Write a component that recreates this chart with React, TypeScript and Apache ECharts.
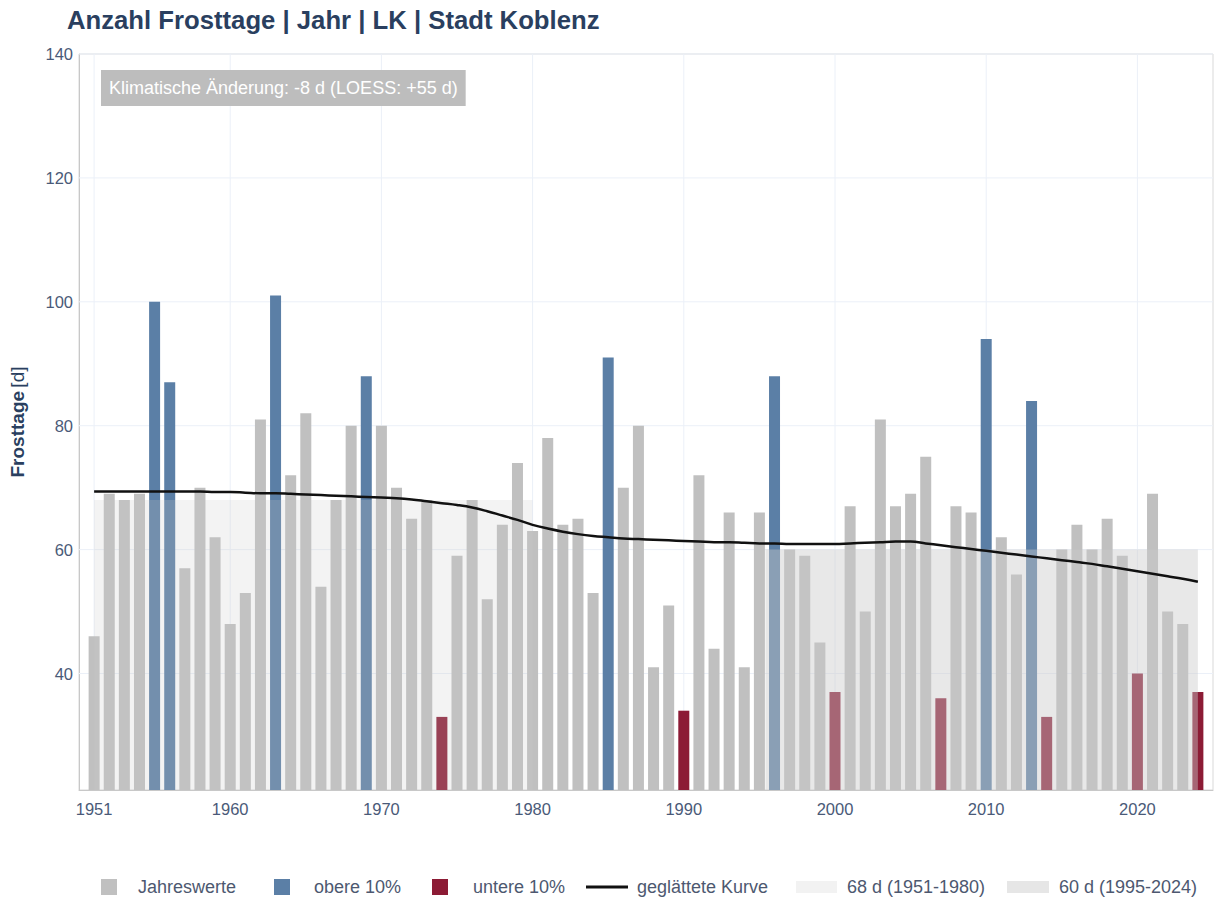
import React, { useEffect, useRef } from "react";
import * as echarts from "echarts";

const firstYear = 1951;
const frostDays: number[] = [
  46, 69, 68, 69, 100, 87, 57, 70, 62, 48,
  53, 81, 101, 72, 82, 54, 68, 80, 88, 80,
  70, 65, 68, 33, 59, 68, 52, 64, 74, 63,
  78, 64, 65, 53, 91, 70, 80, 41, 51, 34,
  72, 44, 66, 41, 66, 88, 60, 59, 45, 37,
  67, 50, 81, 67, 69, 75, 36, 67, 66, 94,
  62, 56, 84, 33, 60, 64, 60, 65, 59, 40,
  69, 50, 48, 37,
];
const smoothed: number[] = [
  69.4, 69.4, 69.4, 69.4, 69.4, 69.4, 69.4, 69.4, 69.3, 69.3,
  69.2, 69.1, 69.1, 69.0, 68.9, 68.8, 68.7, 68.6, 68.5, 68.4,
  68.3, 68.1, 67.8, 67.5, 67.2, 66.8, 66.2, 65.5, 64.8, 64.0,
  63.4, 62.9, 62.5, 62.2, 62.0, 61.8, 61.7, 61.6, 61.5, 61.4,
  61.3, 61.2, 61.2, 61.1, 61.0, 61.0, 60.9, 60.9, 60.9, 60.9,
  61.0, 61.1, 61.2, 61.3, 61.3, 61.0, 60.7, 60.4, 60.1, 59.8,
  59.5, 59.2, 58.9, 58.6, 58.3, 58.0, 57.7, 57.3, 56.9, 56.5,
  56.1, 55.7, 55.3, 54.8,
];
const upperYears = [1955, 1956, 1963, 1969, 1985, 1996, 2010, 2013];
const lowerYears = [1974, 1990, 2000, 2007, 2014, 2020, 2024];
const bands = [
  { name: "68 d (1951-1980)", from: 1951, to: 1980, value: 68 },
  { name: "60 d (1995-2024)", from: 1995.4, to: 2024, value: 60 },
];
const xTicks = [1951, 1960, 1970, 1980, 1990, 2000, 2010, 2020];
const yTicks = [40, 60, 80, 100, 120, 140];
const yMin = 21.2;
const yMax = 140;
const xMin = 1950;
const xMax = 2025;

const TITLE = "Anzahl Frosttage | Jahr | LK | Stadt Koblenz";
const NOTE = "Klimatische Änderung: -8 d (LOESS: +55 d)";

const GRAY = "#c0c0c0";
const BLUE = "#5b7fa6";
const RED = "#8c1b35";
const NAVY = "#2a3f5f";
const TICK = "#4a5a78";
const FONT = "Liberation Sans, Arial, sans-serif";

export default function App() {
  const ref = useRef<HTMLDivElement>(null);
  useEffect(() => {
    if (!ref.current) return;
    const chart = echarts.init(ref.current, null, { renderer: "svg" });
    const years = frostDays.map((_, i) => firstYear + i);
    const normal: any[] = [];
    const upper: any[] = [];
    const lower: any[] = [];
    years.forEach((y, i) => {
      const v = frostDays[i];
      if (upperYears.includes(y)) upper.push([y, v]);
      else if (lowerYears.includes(y)) lower.push([y, v]);
      else normal.push([y, v]);
    });
    const smoothData = years.map((y, i) => [y, smoothed[i]]);

    const gridData = [
      ...xTicks.map((x) => [x, yMin, 0]),
      ...yTicks.map((y) => [xMin, y, 1]),
    ];

    const legendY = 887;
    const legendText = (x: number, text: string) => ({
      type: "text",
      x,
      y: legendY,
      style: { text, fill: "#4d5870", font: `18px ${FONT}`, verticalAlign: "middle" },
    });

    chart.setOption({
      animation: false,
      backgroundColor: "#fff",
      textStyle: { fontFamily: FONT },
      title: {
        text: TITLE,
        left: 67,
        top: 7,
        padding: 0,
        textStyle: { color: NAVY, fontSize: 25.7, fontWeight: "bold", fontFamily: FONT },
      },
      grid: {
        left: 79,
        top: 54,
        right: 2,
        bottom: 111,
        show: true,
        borderColor: "#d9d9d9",
        borderWidth: 1,
        backgroundColor: "transparent",
      },
      xAxis: {
        type: "value",
        min: xMin,
        max: xMax,
        axisLine: { show: true, lineStyle: { color: "#c8c8c8" } },
        axisTick: { show: false },
        splitLine: { show: false },
        axisLabel: {
          customValues: xTicks,
          color: TICK,
          fontSize: 16.5,
          margin: 10,
          formatter: (v: number) => String(v),
        },
      },
      yAxis: {
        type: "value",
        min: yMin,
        max: yMax,
        axisLine: { show: true, lineStyle: { color: "#c8c8c8" } },
        axisTick: { show: false },
        splitLine: { show: false },
        axisLabel: {
          customValues: yTicks,
          color: TICK,
          fontSize: 16.5,
          margin: 6,
        },
        name: "{b|Frosttage} {n|[d]}",
        nameLocation: "middle",
        nameGap: 52,
        nameRotate: 90,
        nameTextStyle: {
          rich: {
            b: { fontWeight: "bold", fontSize: 19, color: NAVY, fontFamily: FONT },
            n: { fontSize: 19, color: NAVY, fontFamily: FONT },
          },
        },
      },
      series: [
        {
          type: "custom",
          name: "grid",
          z: 1,
          silent: true,
          encode: { x: 0, y: 1 },
          data: gridData,
          renderItem: (params: any, api: any) => {
            const kind = api.value(2);
            const cs = params.coordSys;
            if (kind === 0) {
              const p = api.coord([api.value(0), yMin]);
              return {
                type: "line",
                shape: { x1: p[0], y1: cs.y, x2: p[0], y2: cs.y + cs.height },
                style: { stroke: "#ebf0f8", lineWidth: 1 },
              };
            }
            const p = api.coord([xMin, api.value(1)]);
            return {
              type: "line",
              shape: { x1: cs.x, y1: p[1], x2: cs.x + cs.width, y2: p[1] },
              style: { stroke: "#ebf0f8", lineWidth: 1 },
            };
          },
        },
        {
          type: "bar",
          name: "Jahreswerte",
          data: normal,
          barWidth: 11,
          barGap: "-100%",
          itemStyle: { color: GRAY },
          z: 2,
        },
        {
          type: "bar",
          name: "obere 10%",
          data: upper,
          barWidth: 11,
          barGap: "-100%",
          itemStyle: { color: BLUE },
          z: 2,
        },
        {
          type: "bar",
          name: "untere 10%",
          data: lower,
          barWidth: 11,
          barGap: "-100%",
          itemStyle: { color: RED },
          z: 2,
        },
        {
          type: "custom",
          name: "bands",
          z: 3,
          silent: true,
          encode: { x: 0, y: 2 },
          data: bands.map((b, i) => [b.from, b.to, b.value, i]),
          renderItem: (params: any, api: any) => {
            const x0 = api.value(0);
            const x1 = api.value(1);
            const v = api.value(2);
            const idx = api.value(3);
            const p0 = api.coord([x0, yMin]);
            const p1 = api.coord([x1, v]);
            return {
              type: "rect",
              shape: { x: p0[0], y: p1[1], width: p1[0] - p0[0], height: p0[1] - p1[1] },
              style: {
                fill: idx === 0 ? "rgba(201,201,201,0.22)" : "rgba(201,201,201,0.43)",
              },
            };
          },
        },
        {
          type: "line",
          name: "geglättete Kurve",
          data: smoothData,
          showSymbol: false,
          symbol: "none",
          smooth: 0.4,
          lineStyle: { color: "#111", width: 2.5 },
          z: 4,
        },
      ],
      graphic: [
        {
          type: "text",
          x: 101,
          y: 70,
          z: 10,
          style: {
            text: NOTE,
            font: `18px ${FONT}`,
            fill: "#ffffff",
            backgroundColor: "#bdbdbd",
            padding: [9, 8, 9, 8],
          },
        },
        { type: "rect", shape: { x: 101, y: 879, width: 16, height: 16 }, style: { fill: GRAY } },
        legendText(138, "Jahreswerte"),
        { type: "rect", shape: { x: 274, y: 879, width: 16, height: 16 }, style: { fill: BLUE } },
        legendText(314, "obere 10%"),
        { type: "rect", shape: { x: 432, y: 879, width: 16, height: 16 }, style: { fill: RED } },
        legendText(473, "untere 10%"),
        {
          type: "line",
          shape: { x1: 586, y1: legendY, x2: 628, y2: legendY },
          style: { stroke: "#111", lineWidth: 3 },
        },
        legendText(637, "geglättete Kurve"),
        { type: "rect", shape: { x: 796, y: 881, width: 41, height: 12 }, style: { fill: "#f2f2f2" } },
        legendText(847, bands[0].name),
        { type: "rect", shape: { x: 1007, y: 881, width: 42, height: 12 }, style: { fill: "#e6e6e6" } },
        legendText(1059, bands[1].name),
      ],
    });
    return () => chart.dispose();
  }, []);
  return (
    <div
      ref={ref}
      style={{ position: "fixed", left: 0, top: 0, width: 1215, height: 901 }}
    />
  );
}
